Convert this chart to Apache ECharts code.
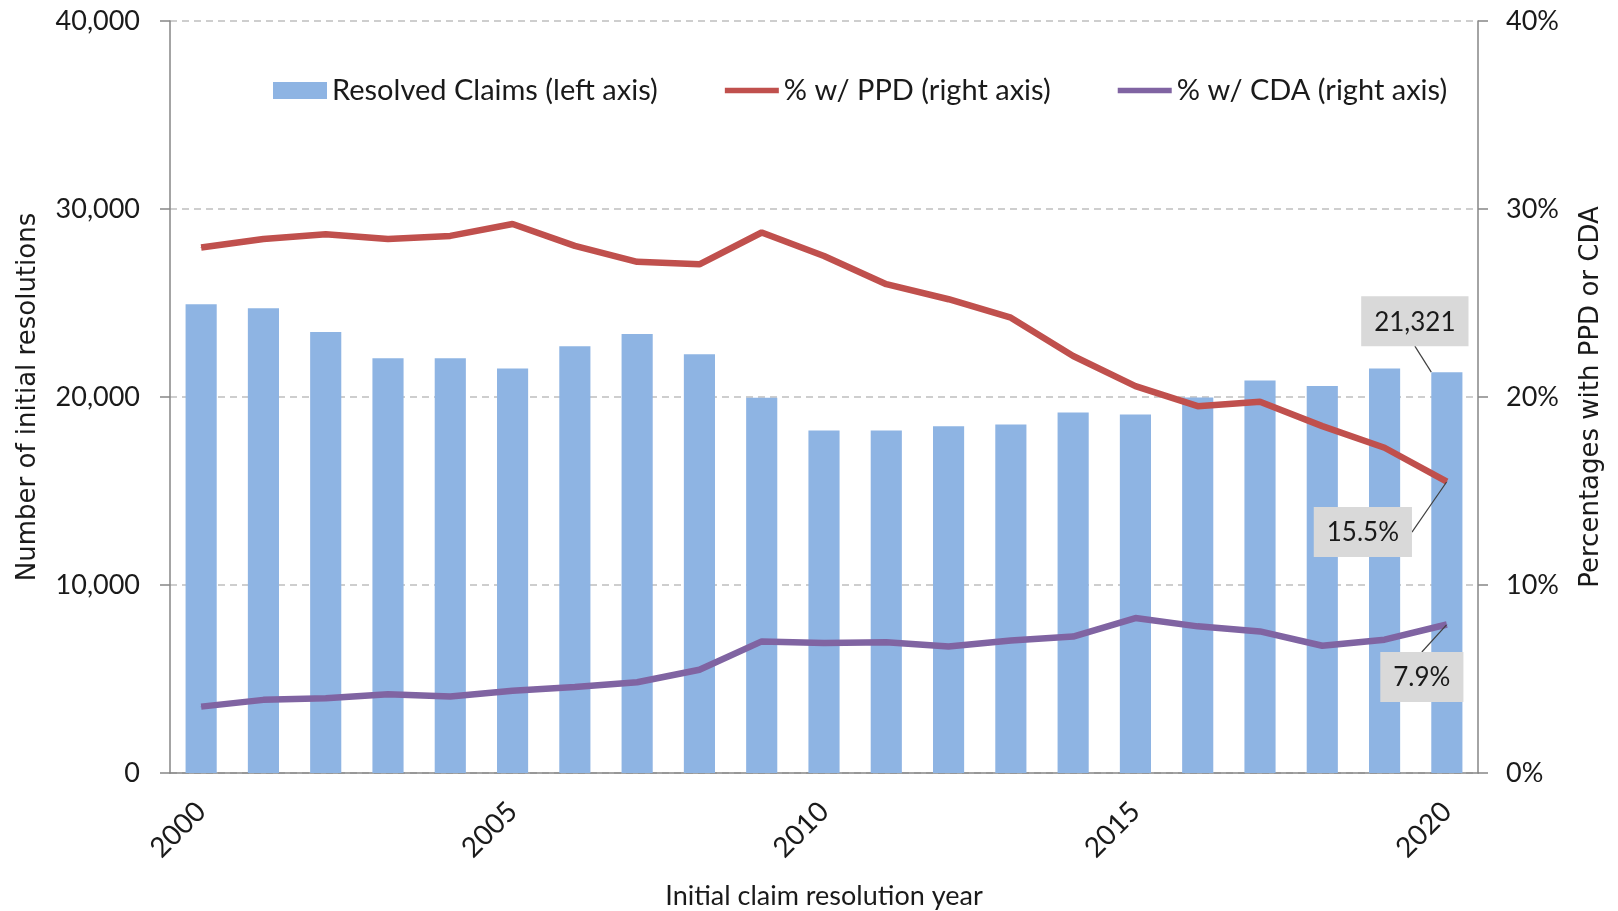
<!DOCTYPE html>
<html>
<head>
<meta charset="UTF-8">
<title>Resolved claims</title>
<style>
  * { margin: 0; padding: 0; }
  html, body { width: 100%; height: 100%; background: #fff; }
  #main { width: 1618px; height: 911px; }
</style>
<script src="https://cdn.jsdelivr.net/npm/echarts@6/dist/echarts.min.js"></script>
</head>
<body>
<div id="main"></div>
<script>
  // data
  var years = ['2000', '2001', '2002', '2003', '2004', '2005', '2006', '2007', '2008', '2009', '2010',
               '2011', '2012', '2013', '2014', '2015', '2016', '2017', '2018', '2019', '2020'];
  var resolved = [24930, 24720, 23460, 22060, 22060, 21520, 22700, 23350, 22270, 19960, 18220,
                  18220, 18450, 18540, 19180, 19070, 19980, 20880, 20580, 21520, 21321];
  var pctPPD = [27.95, 28.4, 28.66, 28.4, 28.57, 29.2, 28.04, 27.19, 27.06, 28.75, 27.5,
                26.0, 25.2, 24.22, 22.18, 20.58, 19.51, 19.75, 18.45, 17.3, 15.5];
  var pctCDA = [3.53, 3.89, 3.98, 4.19, 4.07, 4.37, 4.57, 4.83, 5.49, 7.0, 6.91,
                6.96, 6.73, 7.05, 7.26, 8.24, 7.8, 7.53, 6.77, 7.09, 7.9];

  var tickFont = 'Lato, "Liberation Sans", sans-serif';
  var titleFont = '"DejaVu Sans", Verdana, sans-serif';
  var last = years.length - 1;
  var lineIcon = 'path://M0,0H60V6H0Z';

  var calloutBox = {
    show: true,
    color: '#1a1a1a',
    fontFamily: tickFont,
    fontSize: 26,
    backgroundColor: '#d9d9d9',
    padding: [13, 13, 11, 13]
  };

  // only the 2020 point gets a callout
  function withCallout(values, text, pos) {
    return values.map(function (v, i) {
      if (i !== last) return v;
      return {
        value: v,
        label: Object.assign({}, calloutBox, { formatter: text, position: pos }),
        labelLine: { show: true, lineStyle: { color: '#404040', width: 1.2 } }
      };
    });
  }

  var myChart = echarts.init(document.getElementById('main'));
  var option = {
    animation: false,
    grid: { left: 170, right: 140, top: 21, bottom: 138, outerBoundsMode: 'none' },
    legend: {
      top: 71,
      left: 268,
      itemGap: 67,
      itemWidth: 54,
      itemHeight: 17,
      textStyle: { fontFamily: tickFont, fontSize: 29, color: '#1a1a1a' },
      data: [
        { name: 'Resolved Claims (left axis)', icon: 'rect' },
        { name: '% w/ PPD (right axis)', icon: lineIcon },
        { name: '% w/ CDA (right axis)', icon: lineIcon }
      ]
    },
    xAxis: {
      type: 'category',
      data: years,
      name: 'Initial claim resolution year',
      nameLocation: 'middle',
      nameGap: 110,
      nameTextStyle: { fontFamily: tickFont, fontSize: 27, color: '#1a1a1a' },
      axisLine: { lineStyle: { color: '#868686', width: 1.5 } },
      axisTick: { interval: 0, length: 10, lineStyle: { color: '#868686', width: 1.5 } },
      axisLabel: {
        interval: 4,
        rotate: 45,
        margin: 34,
        fontFamily: tickFont,
        fontSize: 28,
        color: '#1a1a1a'
      }
    },
    yAxis: [
      {
        type: 'value',
        min: 0,
        max: 40000,
        interval: 10000,
        name: 'Number of initial resolutions',
        nameLocation: 'middle',
        nameRotate: 90,
        nameGap: 129,
        nameTextStyle: { fontFamily: titleFont, fontSize: 26, color: '#1a1a1a' },
        axisLine: { show: true, lineStyle: { color: '#868686', width: 1.5 } },
        axisTick: { show: true, length: 10, lineStyle: { color: '#868686', width: 1.5 } },
        axisLabel: {
          margin: 30,
          fontFamily: tickFont,
          fontSize: 27,
          color: '#1a1a1a',
          formatter: function (v) { return v.toLocaleString('en-US'); }
        },
        splitLine: { lineStyle: { color: '#bfbfbf', type: [7, 5], width: 1.5 } }
      },
      {
        type: 'value',
        min: 0,
        max: 40,
        interval: 10,
        position: 'right',
        name: 'Percentages with PPD or CDA',
        nameLocation: 'middle',
        nameRotate: 90,
        nameGap: 100,
        nameTextStyle: { fontFamily: titleFont, fontSize: 26, color: '#1a1a1a' },
        axisLine: { show: true, lineStyle: { color: '#868686', width: 1.5 } },
        axisTick: { show: true, length: 10, lineStyle: { color: '#868686', width: 1.5 } },
        axisLabel: {
          margin: 28,
          fontFamily: tickFont,
          fontSize: 27,
          color: '#1a1a1a',
          formatter: '{value}%'
        },
        splitLine: { show: false }
      }
    ],
    series: [
      {
        name: 'Resolved Claims (left axis)',
        type: 'bar',
        yAxisIndex: 0,
        barWidth: '50%',
        itemStyle: { color: '#8eb4e3' },
        data: withCallout(resolved, '21,321', 'top'),
        labelLayout: { dx: -32, dy: -21 },
        z: 1
      },
      {
        name: '% w/ PPD (right axis)',
        type: 'line',
        yAxisIndex: 1,
        symbol: 'circle',
        symbolSize: 1,
        lineStyle: { color: '#c0504d', width: 6.5 },
        itemStyle: { color: '#c0504d' },
        data: withCallout(pctPPD, '15.5%', 'top'),
        labelLayout: { dx: -84, dy: 81 },
        z: 3
      },
      {
        name: '% w/ CDA (right axis)',
        type: 'line',
        yAxisIndex: 1,
        symbol: 'circle',
        symbolSize: 1,
        lineStyle: { color: '#8064a2', width: 6.5 },
        itemStyle: { color: '#8064a2' },
        data: withCallout(pctCDA, '7.9%', 'bottom'),
        labelLayout: { dx: -25, dy: 22 },
        z: 3
      }
    ]
  };
  myChart.setOption(option);
</script>
</body>
</html>
